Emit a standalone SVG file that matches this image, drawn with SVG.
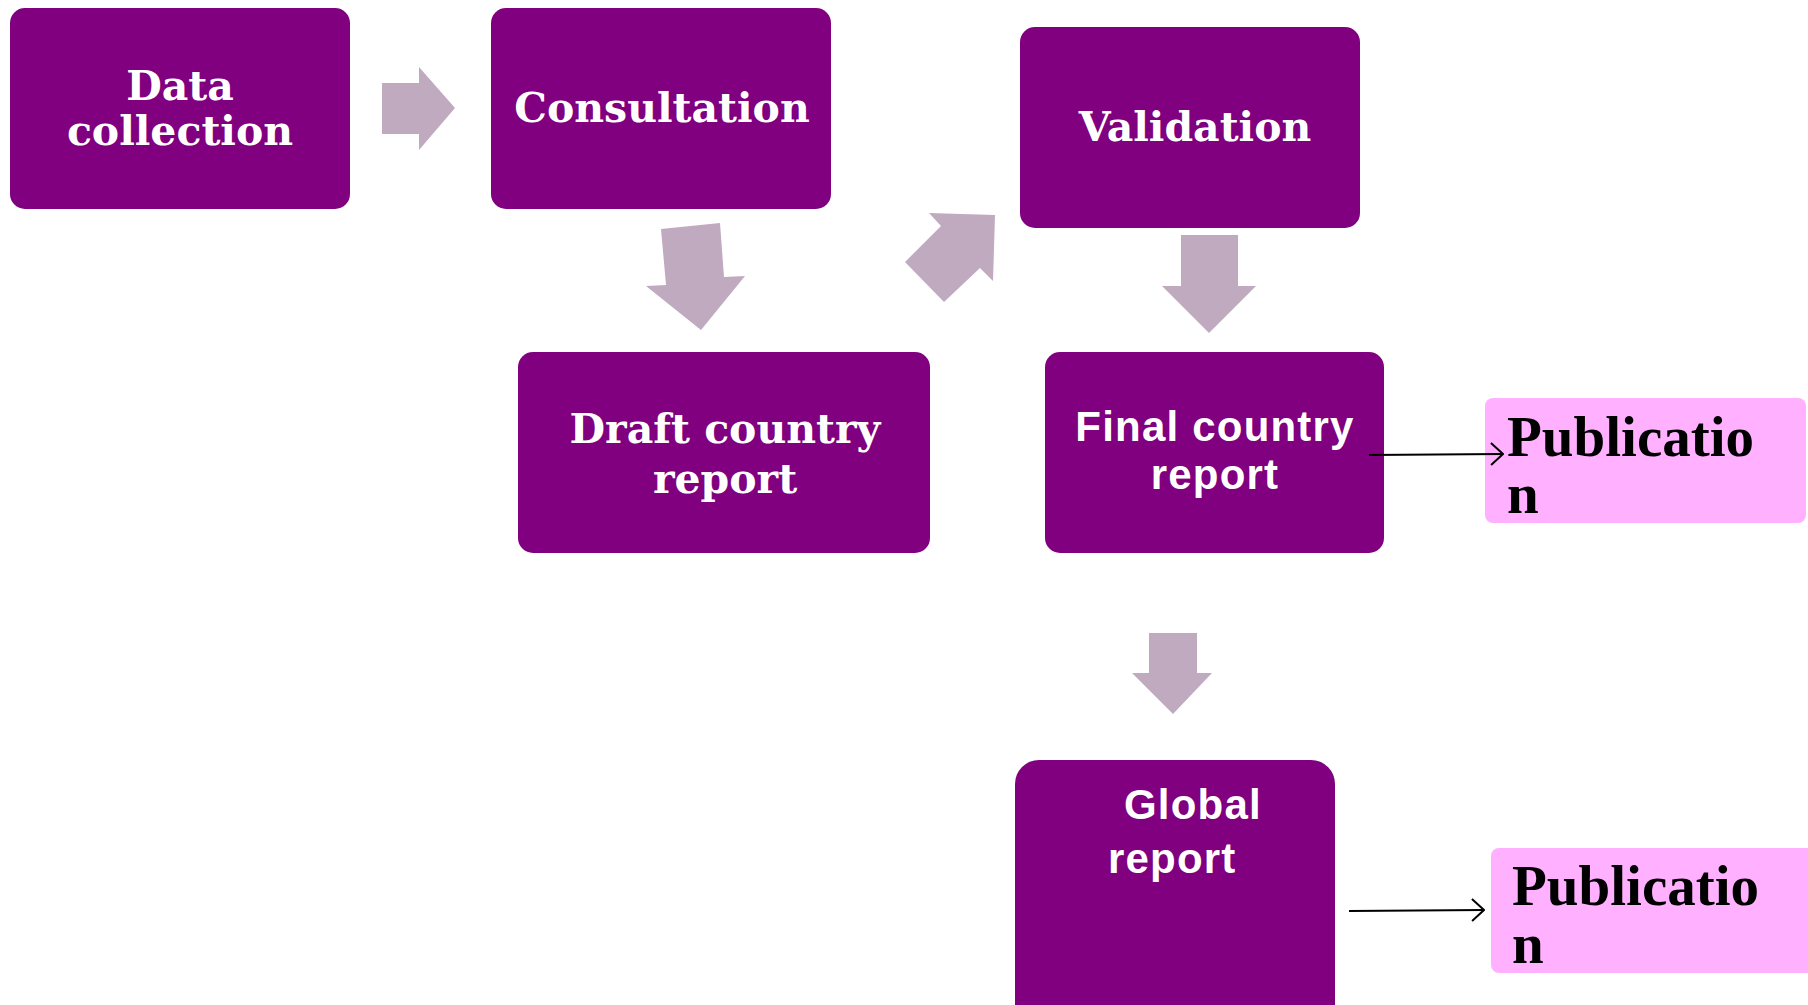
<svg xmlns="http://www.w3.org/2000/svg" width="1808" height="1005" viewBox="0 0 1808 1005">
<defs>
<style>
.box{fill:#800080}
.pub{fill:#FFB1FF}
.blk{fill:#C0AAC0}
.serif{font-family:"DejaVu Serif",serif;font-weight:bold;font-size:41px;fill:#ffffff}
.sans{font-family:"Liberation Sans",Arial,sans-serif;font-weight:bold;font-size:42px;letter-spacing:1.2px;fill:#ffffff}
.pubt{font-family:"Liberation Serif","Times New Roman",serif;font-weight:bold;font-size:57px;fill:#000000}
.ln{stroke:#000;stroke-width:2;fill:none}
</style>
<marker id="open" viewBox="0 0 14 24" refX="13" refY="12" markerWidth="14" markerHeight="24" markerUnits="userSpaceOnUse" orient="auto">
<path d="M1,1 L13,12 L1,23" fill="none" stroke="#000" stroke-width="2"/>
</marker>
</defs>
<rect width="1808" height="1005" fill="#ffffff"/>
<g id="n-data">
<rect class="box" x="10" y="8" width="340" height="201" rx="15"/>
<text class="serif" text-anchor="middle"><tspan x="180" y="100">Data</tspan><tspan x="180" y="145">collection</tspan></text>
</g>
<g id="n-consult">
<rect class="box" x="491" y="8" width="340" height="201" rx="15"/>
<text class="serif" x="662" y="122" text-anchor="middle">Consultation</text>
</g>
<g id="n-validation">
<rect class="box" x="1020" y="27" width="340" height="201" rx="15"/>
<text class="serif" x="1195" y="141" text-anchor="middle">Validation</text>
</g>
<g id="n-draft">
<rect class="box" x="518" y="352" width="412" height="201" rx="15"/>
<text class="serif" text-anchor="middle"><tspan x="725" y="443">Draft country</tspan><tspan x="725" y="493">report</tspan></text>
</g>
<g id="n-final">
<rect class="box" x="1045" y="352" width="339" height="201" rx="15"/>
<text class="sans" text-anchor="middle"><tspan x="1215" y="441">Final country</tspan><tspan x="1215" y="489">report</tspan></text>
</g>
<g id="n-global">
<rect class="box" x="1015" y="760" width="320" height="270" rx="24"/>
<text class="sans"><tspan x="1124" y="819">Global</tspan><tspan x="1108" y="873">report</tspan></text>
</g>
<g id="n-pub1">
<rect class="pub" x="1485" y="398" width="321" height="125" rx="8"/>
<text class="pubt"><tspan x="1507" y="456">Publicatio</tspan><tspan x="1507" y="513">n</tspan></text>
</g>
<g id="n-pub2">
<rect class="pub" x="1491" y="848" width="330" height="125" rx="8"/>
<text class="pubt"><tspan x="1512" y="905">Publicatio</tspan><tspan x="1512" y="963">n</tspan></text>
</g>
<g id="connectors">
<polygon class="blk" points="382,83 419,83 419,67 455,108 419,150 419,134 382,134"/>
<polygon class="blk" points="661,229 720,223 724,277 745,276 701,330 646,286 666,285"/>
<polygon class="blk" points="929,213 995,215 993,281 980,268 944,302 905,262 941,226"/>
<polygon class="blk" points="1181,235 1238,235 1238,286 1256,286 1209,333 1162,286 1181,286"/>
<polygon class="blk" points="1149,633 1197,633 1197,673 1212,673 1173,714 1132,673 1149,673"/>
<line class="ln" x1="1369" y1="455" x2="1503" y2="454" marker-end="url(#open)"/>
<line class="ln" x1="1349" y1="911" x2="1484" y2="910" marker-end="url(#open)"/>
</g>
</svg>
